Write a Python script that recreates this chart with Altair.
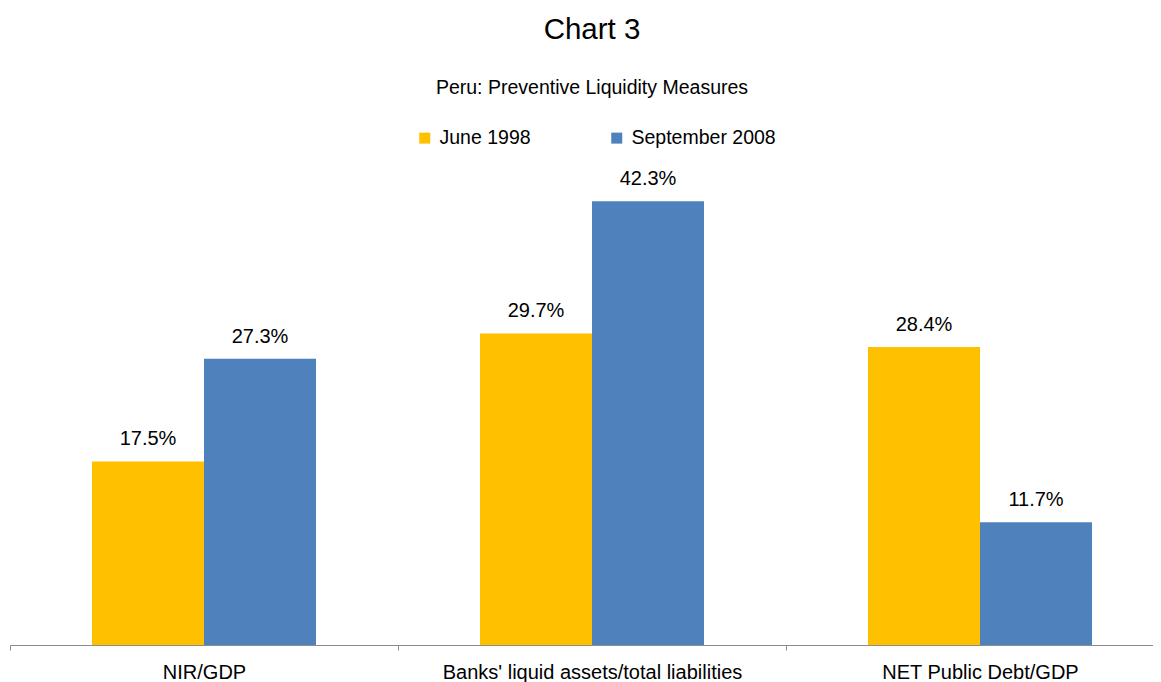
import altair as alt
import pandas as pd

categories = ["NIR/GDP", "Banks' liquid assets/total liabilities", "NET Public Debt/GDP"]
series_names = ["June 1998", "September 2008"]
june_1998 = [17.5, 29.7, 28.4]
sept_2008 = [27.3, 42.3, 11.7]
colors = ["#FFC000", "#4F81BD"]
title_text = "Chart 3"
subtitle_text = "Peru: Preventive Liquidity Measures"

rows = []
for c, a, b in zip(categories, june_1998, sept_2008):
    rows.append({"category": c, "series": series_names[0], "value": a, "label": f"{a:.1f}%"})
    rows.append({"category": c, "series": series_names[1], "value": b, "label": f"{b:.1f}%"})
df = pd.DataFrame(rows)

FONT = "Liberation Sans"
W = 1164
H = 472

x_enc = alt.X("category:N", sort=categories, title=None,
              scale=alt.Scale(paddingInner=0, paddingOuter=0),
              axis=alt.Axis(labelAngle=0, labelFontSize=20, labelColor="#000000", labelFont=FONT,
                            domainColor="#8c8c8c", tickColor="#8c8c8c", tickSize=5,
                            tickBand="extent", labelPadding=12, labelLimit=600))
xo_enc = alt.XOffset("series:N", sort=series_names,
                     scale=alt.Scale(paddingOuter=0.732, paddingInner=0))
y_enc = alt.Y("value:Q", scale=alt.Scale(domain=[0, 45], nice=False), axis=None)

base = alt.Chart(df)

bars = base.mark_bar().encode(
    x=x_enc, xOffset=xo_enc, y=y_enc,
    color=alt.Color("series:N", sort=series_names,
                    scale=alt.Scale(domain=series_names, range=colors),
                    legend=alt.Legend(title=None, orient="none", legendX=405, legendY=-45,
                                      direction="horizontal", columns=2, columnPadding=76,
                                      symbolType="square", symbolSize=121, symbolStrokeWidth=0,
                                      labelFontSize=19.5, labelFont=FONT, labelColor="#000000",
                                      labelOffset=5)),
)

texts = base.mark_text(baseline="alphabetic", dy=-16, fontSize=20, font=FONT, color="#000000").encode(
    x=x_enc, xOffset=xo_enc, y=y_enc, text="label:N"
)

title = alt.Chart(pd.DataFrame({"t": [title_text]})).mark_text(
    fontSize=29.5, font=FONT, color="#000000", baseline="middle", align="center"
).encode(text="t:N", x=alt.value(582), y=alt.value(-143))

subtitle = alt.Chart(pd.DataFrame({"t": [subtitle_text]})).mark_text(
    fontSize=19.5, font=FONT, color="#000000", baseline="middle", align="center"
).encode(text="t:N", x=alt.value(582), y=alt.value(-85))

chart = alt.layer(bars, texts, title, subtitle).properties(
    width=W, height=H,
    autosize=alt.AutoSizeParams(type="none"),
    padding={"left": 2, "top": 165, "right": -21, "bottom": 44},
).configure_view(stroke=None)

chart.save("out.html", embed_options={"renderer": "svg", "actions": False})
